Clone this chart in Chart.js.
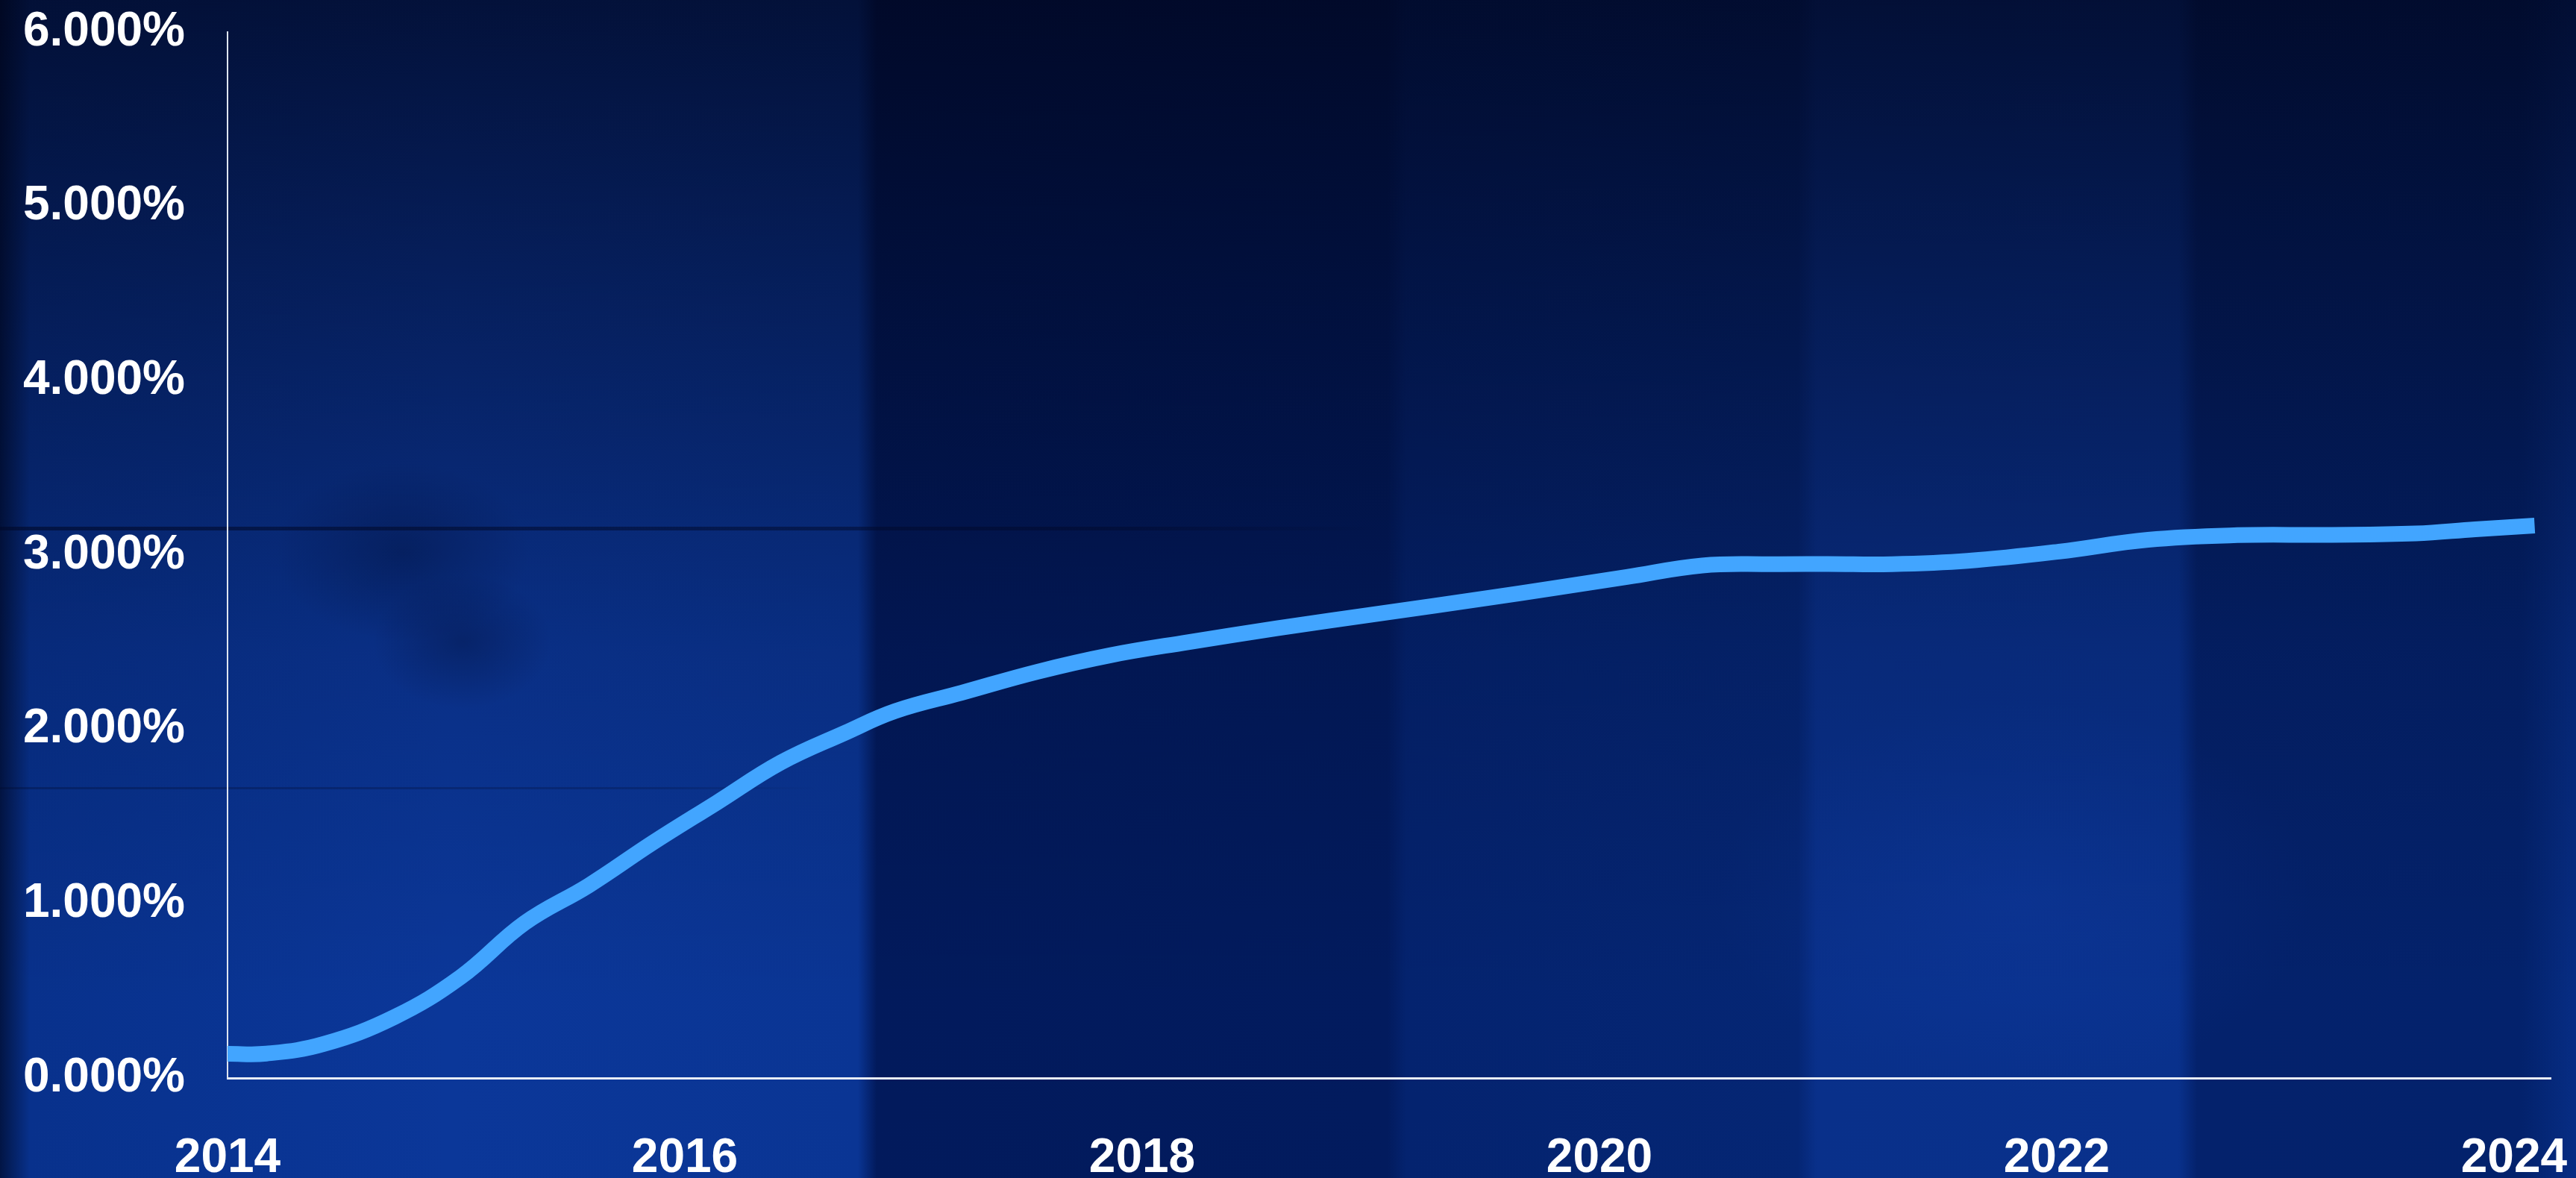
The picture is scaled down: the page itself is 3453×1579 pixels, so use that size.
<!DOCTYPE html>
<html>
<head>
<meta charset="utf-8">
<script src="https://cdn.jsdelivr.net/npm/chart.js@4/dist/chart.umd.min.js"></script>
<style>
  html, body { margin: 0; padding: 0; background: #02164f; overflow: hidden; }
  #wrap {
    position: relative;
    width: 3453px;
    height: 1579px;
    background:
      /* darker at the top */
      linear-gradient(to bottom, rgba(0, 3, 22, 0.72) 0%, rgba(0, 3, 22, 0.45) 25%, rgba(0, 3, 22, 0.15) 55%, rgba(0, 0, 0, 0) 85%),
      /* soft mottling */
      radial-gradient(ellipse 170px 120px at 540px 740px, rgba(0, 10, 45, 0.3), transparent),
      radial-gradient(ellipse 120px 90px at 620px 860px, rgba(0, 10, 45, 0.3), transparent),
      radial-gradient(ellipse 400px 260px at 2700px 1200px, rgba(20, 70, 190, 0.2), transparent),
      /* vertical bands */
      linear-gradient(to right,
        #021545 0px, #08318c 40px, #0b3799 600px, #0a3594 1150px,
        #021a5c 1175px, #021b5e 1860px,
        #04236f 1885px, #052674 2410px,
        #09308a 2435px, #09318c 2920px,
        #04226c 2945px, #03226c 3380px, #072d84 3453px);
  }
  .scratch { position: absolute; left: 0; background: linear-gradient(to right, rgba(0, 8, 40, 0.6), rgba(0, 8, 40, 0.45) 80%, transparent); }
  canvas { position: absolute; left: 0; top: 0; }
</style>
</head>
<body>
<div id="wrap">
  <div class="scratch" style="top: 706px; width: 1850px; height: 5px;"></div>
  <div class="scratch" style="top: 1055px; width: 1100px; height: 3px; opacity: 0.5;"></div>
  <canvas id="rateChart" width="3453" height="1579"></canvas>
</div>
<script>
  // Rate by year (percent)
  const years = [
    2014.00, 2014.17, 2014.42, 2014.73, 2015.02, 2015.30, 2015.58, 2015.86,
    2016.14, 2016.42, 2016.70, 2016.92, 2017.21, 2017.54, 2017.86, 2018.20,
    2018.59, 2019.05, 2019.51, 2019.80, 2020.12, 2020.45, 2020.75, 2021.00,
    2021.28, 2021.61, 2022.01, 2022.40, 2022.79, 2023.18, 2023.57, 2023.83,
    2024.09
  ];
  const rates = [
    0.139, 0.140, 0.195, 0.350, 0.580, 0.890, 1.105, 1.350,
    1.580, 1.810, 1.980, 2.105, 2.210, 2.330, 2.425, 2.500,
    2.580, 2.667, 2.753, 2.810, 2.874, 2.940, 2.948, 2.949,
    2.948, 2.967, 3.020, 3.088, 3.114, 3.116, 3.124, 3.148,
    3.169
  ];
  const yearTicks = [2014, 2016, 2018, 2020, 2022, 2024];
  const rateTicks = [0, 1, 2, 3, 4, 5, 6];

  const labelFont = { family: "'Liberation Sans', Arial, sans-serif", size: 64, weight: 'bold' };

  const ctx = document.getElementById('rateChart').getContext('2d');

  new Chart(ctx, {
    type: 'line',
    data: {
      datasets: [{
        data: years.map((x, i) => ({ x: x, y: rates[i] })),
        borderColor: '#42a5ff',
        borderWidth: 21,
        pointRadius: 0,
        fill: false,
        tension: 0.4
      }]
    },
    options: {
      responsive: false,
      animation: false,
      layout: { padding: { left: 0, top: 43, right: 34, bottom: 0 } },
      plugins: {
        legend: { display: false },
        tooltip: { enabled: false }
      },
      scales: {
        x: {
          type: 'linear',
          min: 2014,
          max: 2024.16,
          afterBuildTicks: scale => { scale.ticks = yearTicks.map(v => ({ value: v })); },
          afterFit: scale => {
            scale.height = 134;
            scale.paddingLeft = 0;
            scale.paddingRight = 0;
          },
          grid: { display: false, drawTicks: false },
          border: { display: true, color: '#e8edf6', width: 3 },
          ticks: {
            color: '#ffffff',
            font: labelFont,
            padding: 70,
            maxRotation: 0,
            autoSkip: false,
            callback: v => String(v)
          }
        },
        y: {
          type: 'linear',
          min: 0,
          max: 6,
          afterBuildTicks: scale => { scale.ticks = rateTicks.map(v => ({ value: v })); },
          afterFit: scale => {
            scale.width = 305;
            scale.paddingTop = 0;
            scale.paddingBottom = 0;
          },
          grid: { display: false, drawTicks: false },
          border: { display: true, color: '#dfe5f0', width: 2 },
          ticks: {
            color: '#ffffff',
            font: labelFont,
            padding: 57,
            callback: v => v.toFixed(3) + '%'
          }
        }
      }
    }
  });
</script>
</body>
</html>
